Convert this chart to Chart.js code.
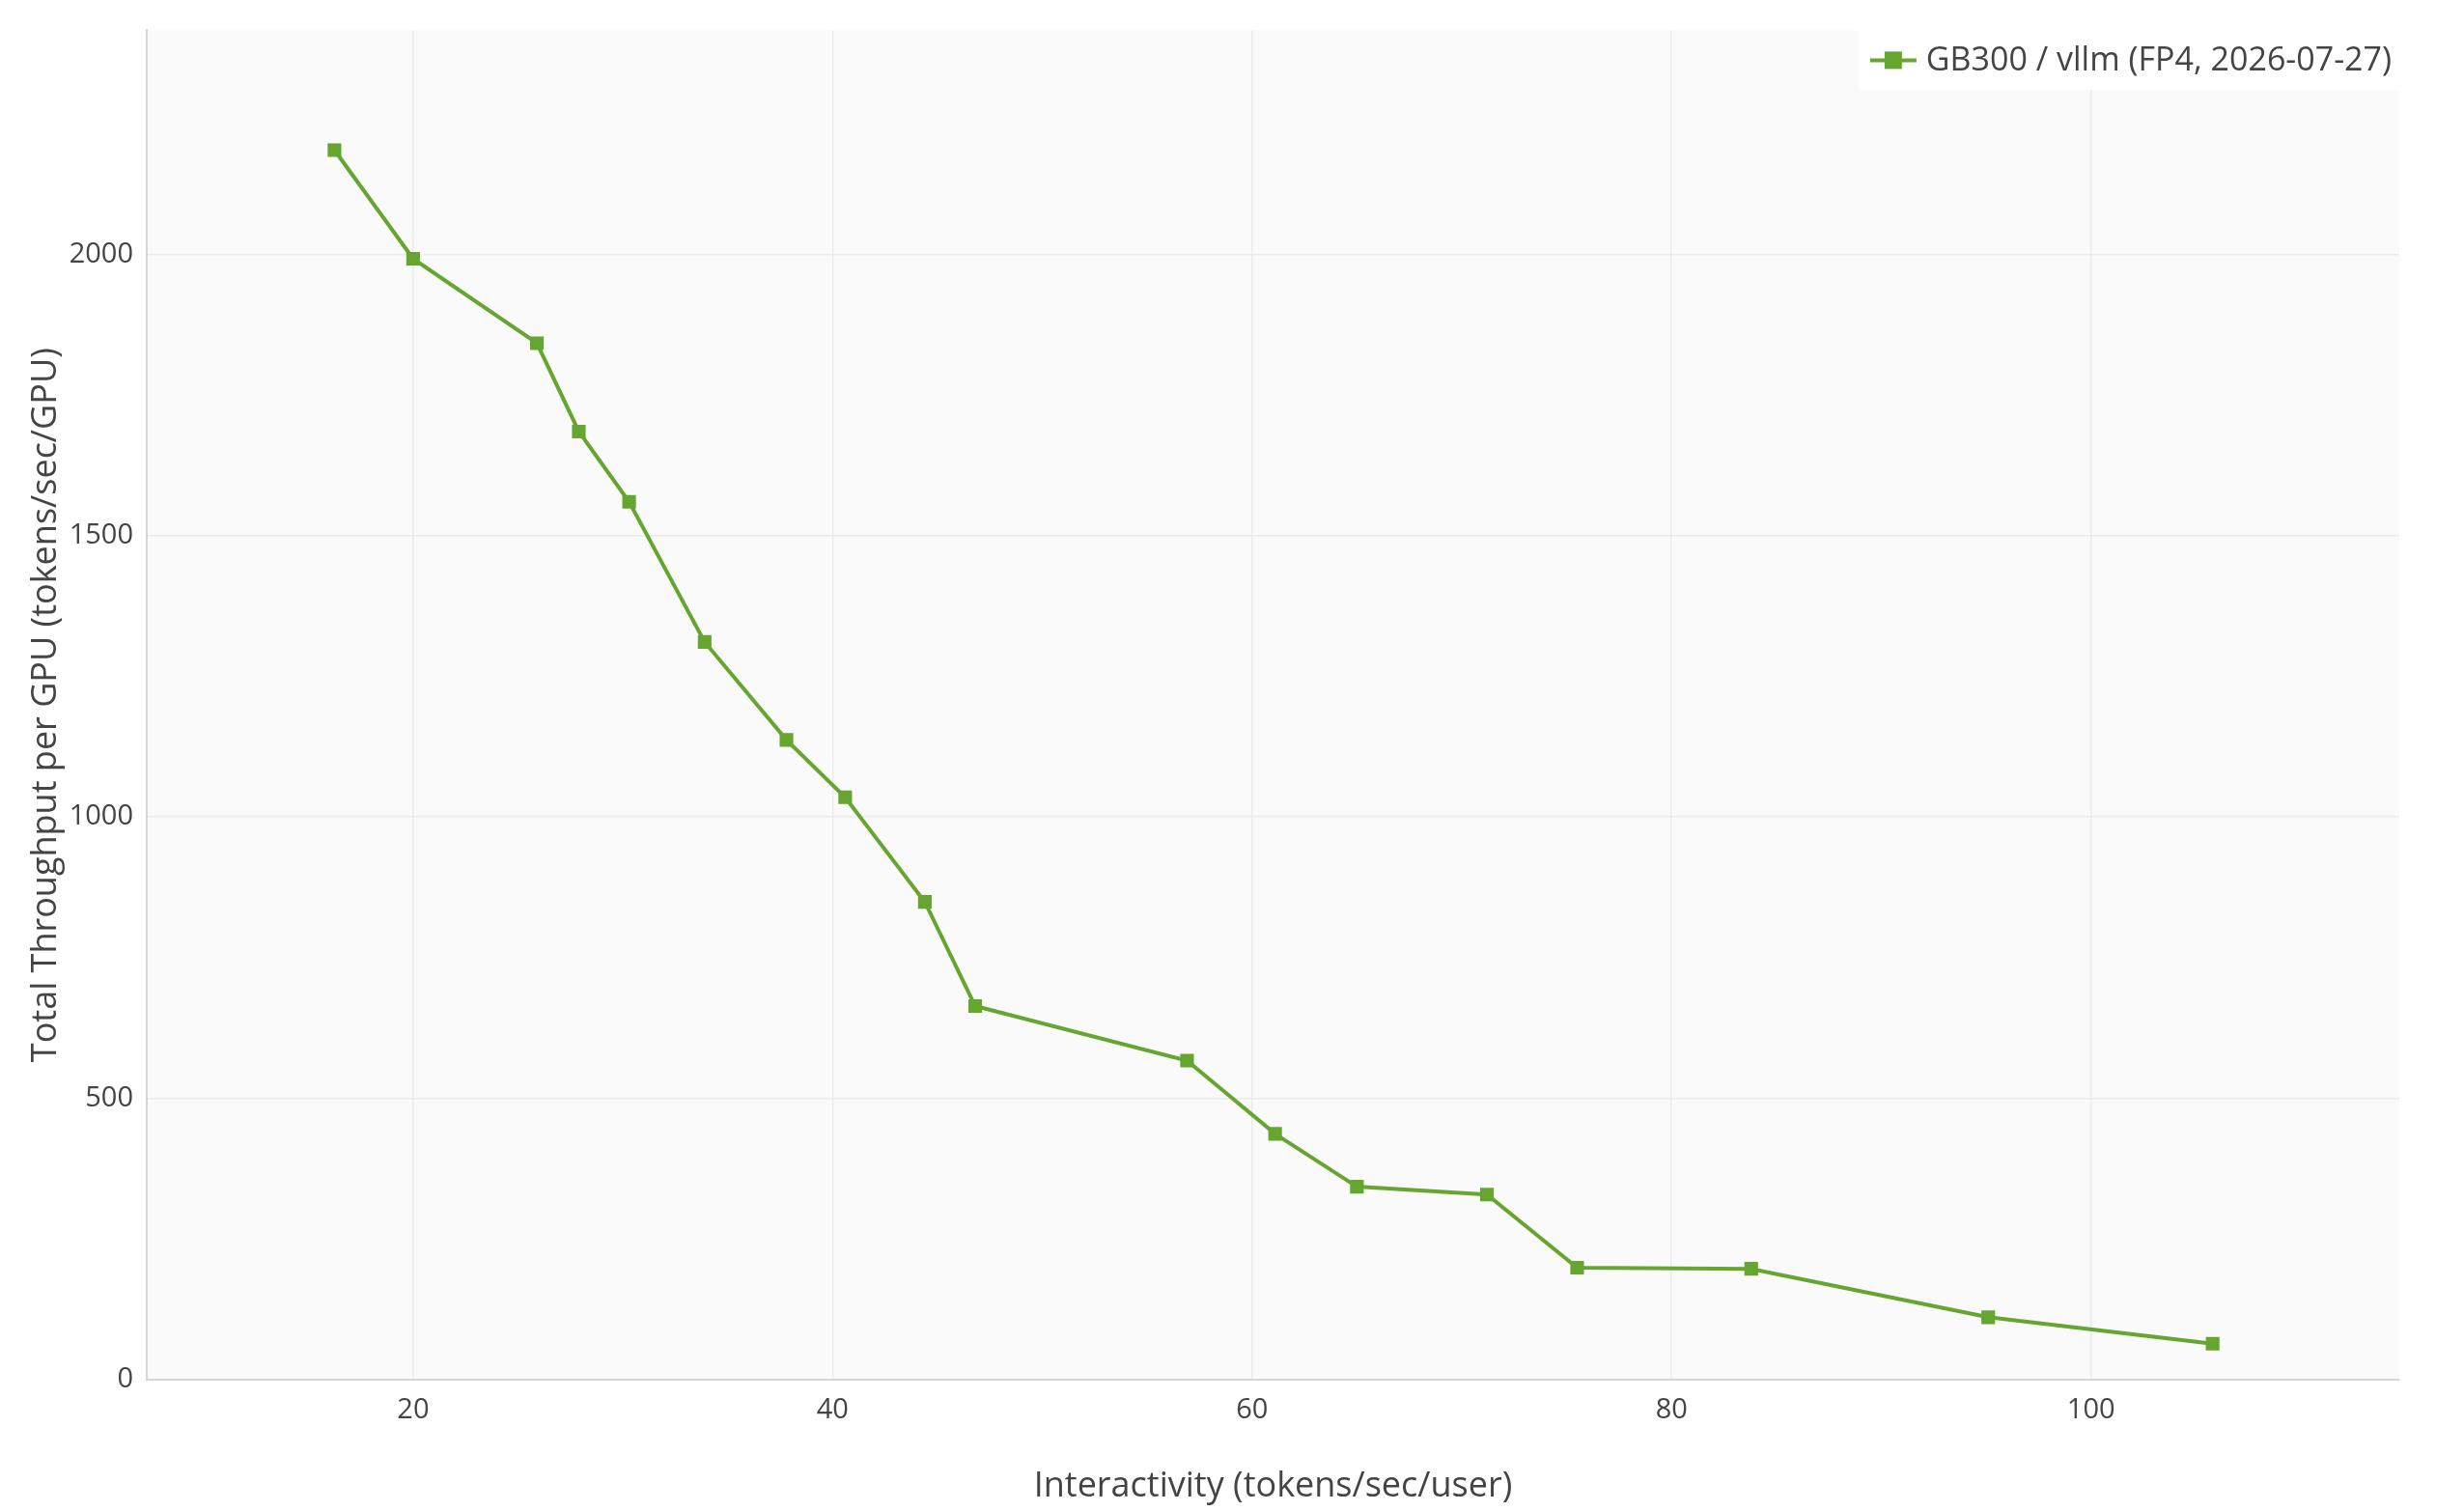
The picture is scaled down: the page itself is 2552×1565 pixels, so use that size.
<!DOCTYPE html>
<html><head><meta charset="utf-8">
<script src="https://cdn.jsdelivr.net/npm/chart.js@4"></script>
<style>html,body{margin:0;padding:0;background:#fff}#w{width:2552px;height:1565px}</style>
</head><body><div id="w"><canvas id="c"></canvas></div>
<script>
const seriesLabel = "GB300 / vllm (FP4, 2026-07-27)";
const interactivity = [16.25, 20.0, 25.9, 27.9, 30.3, 33.9, 37.8, 40.6, 44.4, 46.8, 56.9, 61.1, 65.0, 71.2, 75.5, 83.8, 95.1, 105.8];
const throughput = [2185, 1992, 1842, 1685, 1560, 1311, 1137, 1035, 849, 664, 567, 437, 343, 329, 199, 197, 111, 64];
const yTicks = [0, 500, 1000, 1500, 2000];
const xTicks = [20, 40, 60, 80, 100];
const green = '#66a630';
const font = "'Open Sans', 'DejaVu Sans', sans-serif";

const bgPlugin = {
  id: 'bg',
  beforeDraw(ch) {
    const a = ch.chartArea, g = ch.ctx;
    g.save(); g.fillStyle = '#fafafa'; g.fillRect(a.left, a.top, a.right - a.left, a.bottom - a.top); g.restore();
  },
  afterDraw(ch) {
    const a = ch.chartArea, g = ch.ctx;
    g.save();
    g.font = "34px " + font;
    const label = ch.data.datasets[0].label;
    const tw = g.measureText(label).width;
    const bx = a.right - tw - 78, by = a.top, bh = 62;
    g.fillStyle = '#fff'; g.fillRect(bx, by, a.right - bx, bh);
    const cy = by + bh / 2;
    g.strokeStyle = green; g.lineWidth = 4;
    g.beginPath(); g.moveTo(bx + 12, cy); g.lineTo(bx + 60, cy); g.stroke();
    g.fillStyle = green; g.fillRect(bx + 27, cy - 9, 18, 18);
    g.fillStyle = '#444'; g.textBaseline = 'middle';
    g.fillText(label, bx + 70, cy + 1);
    g.restore();
  }
};

new Chart(document.getElementById('c'), {
  type: 'line',
  data: { datasets: [{
    label: seriesLabel,
    data: interactivity.map((x, i) => ({x, y: throughput[i]})),
    borderColor: green, backgroundColor: green, borderWidth: 4,
    pointStyle: 'rect', pointRadius: 10, pointBorderWidth: 0, tension: 0
  }]},
  options: {
    responsive: true, maintainAspectRatio: false, animation: false,
    layout: { padding: { top: 5, right: 67, left: 22, bottom: 0 } },
    plugins: { legend: { display: false }, tooltip: { enabled: false } },
    scales: {
      x: {
        type: 'linear', min: 7.3, max: 114.7,
        afterBuildTicks(s) { s.ticks = xTicks.map(v => ({value: v})); },
        afterFit(s) { s.height = 136; },
        grid: { color: '#ebebeb', lineWidth: 1.5, drawTicks: false },
        border: { color: '#d6d6d6', width: 2 },
        ticks: { color: '#444', font: { size: 29, family: font }, padding: 14, callback: v => String(v) },
        title: { display: true, text: 'Interactivity (tokens/sec/user)', color: '#444', font: { size: 36, family: font }, padding: { top: 28 } }
      },
      y: {
        min: 0, max: 2398,
        afterBuildTicks(s) { s.ticks = yTicks.map(v => ({value: v})); },
        afterFit(s) { s.width = 130; },
        grid: { color: '#ebebeb', lineWidth: 1.5, drawTicks: false },
        border: { color: '#d6d6d6', width: 2 },
        ticks: { color: '#444', font: { size: 29, family: font }, padding: 14, callback: v => String(v) },
        title: { display: true, text: 'Total Throughput per GPU (tokens/sec/GPU)', color: '#444', font: { size: 36, family: font }, padding: { bottom: 10 } }
      }
    }
  },
  plugins: [bgPlugin]
});
</script></body></html>
